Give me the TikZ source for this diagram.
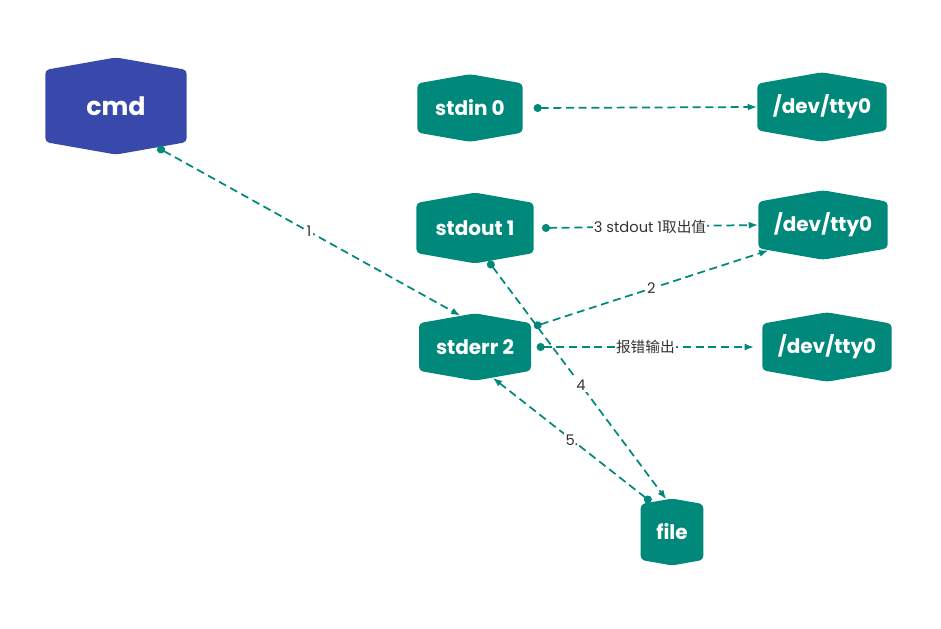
\documentclass[tikz,border=0pt]{standalone}
\usepackage{fontspec}
\setmainfont{Poppins}
\newfontfamily\cjk{Noto Sans CJK SC}
\usetikzlibrary{shapes.symbols,arrows.meta}
\definecolor{teal}{RGB}{0,137,123}
\definecolor{cmdblue}{RGB}{57,73,171}
\tikzset{
  box/.style={signal, signal to=north and south, signal pointer angle=160,
    fill=teal, text=white, font=\bfseries\fontsize{15}{18}\selectfont,
    rounded corners=3pt, inner sep=0pt},
  link/.style={dashed, dash pattern=on 6pt off 3.5pt, teal, line width=1.3pt, {Circle[length=6pt]}-{Latex[length=7pt]}},
  lbl/.style={fill=white, inner sep=1pt, text=black!80, font=\fontsize{11}{13}\selectfont}
}
\begin{document}
\begin{tikzpicture}[x=0.75pt,y=-0.75pt]
\useasboundingbox (0,0) rectangle (941,628);

\node[box, fill=cmdblue, minimum width=106pt, minimum height=62pt, font=\bfseries\fontsize{19}{22}\selectfont] (cmd) at (116,106) {cmd};
\node[box, minimum width=79pt, minimum height=46pt] (stdin) at (470,108) {stdin 0};
\node[box, minimum width=88pt, minimum height=48pt] (stdout) at (475,228) {stdout 1};
\node[box, minimum width=84pt, minimum height=46pt] (stderr) at (475,347) {stderr 2};
\node[box, minimum width=97pt, minimum height=48pt] (ttya) at (822,107) {/dev/tty0};
\node[box, minimum width=97pt, minimum height=48pt] (ttyb) at (823,225) {/dev/tty0};
\node[box, minimum width=97pt, minimum height=48pt] (ttyc) at (827,347) {/dev/tty0};
\node[box, minimum width=47pt, minimum height=46pt] (file) at (672,532) {file};

\draw[link] (cmd.-45) -- (stderr.115) node[lbl, midway] {1};
\draw[link] ([xshift=8pt]stdin.east) -- (ttya.west);
\draw[link] ([xshift=6pt]stdout.east) -- (ttyb.west) node[lbl, midway] {3 stdout 1{\cjk 取出值}};
\draw[link] ([xshift=2pt]stderr.20) -- (ttyb.-155) node[lbl, midway] {2};
\draw[link] ([xshift=4pt]stderr.east) -- ([xshift=-6pt]ttyc.west) node[lbl, midway] {\cjk 报错输出};
\draw[link] (stdout.-68) -- (file.100) node[lbl, pos=0.52] {4};
\draw[link] (file.125) -- (stderr.-60) node[lbl, pos=0.5] {5.};
\end{tikzpicture}
\end{document}
